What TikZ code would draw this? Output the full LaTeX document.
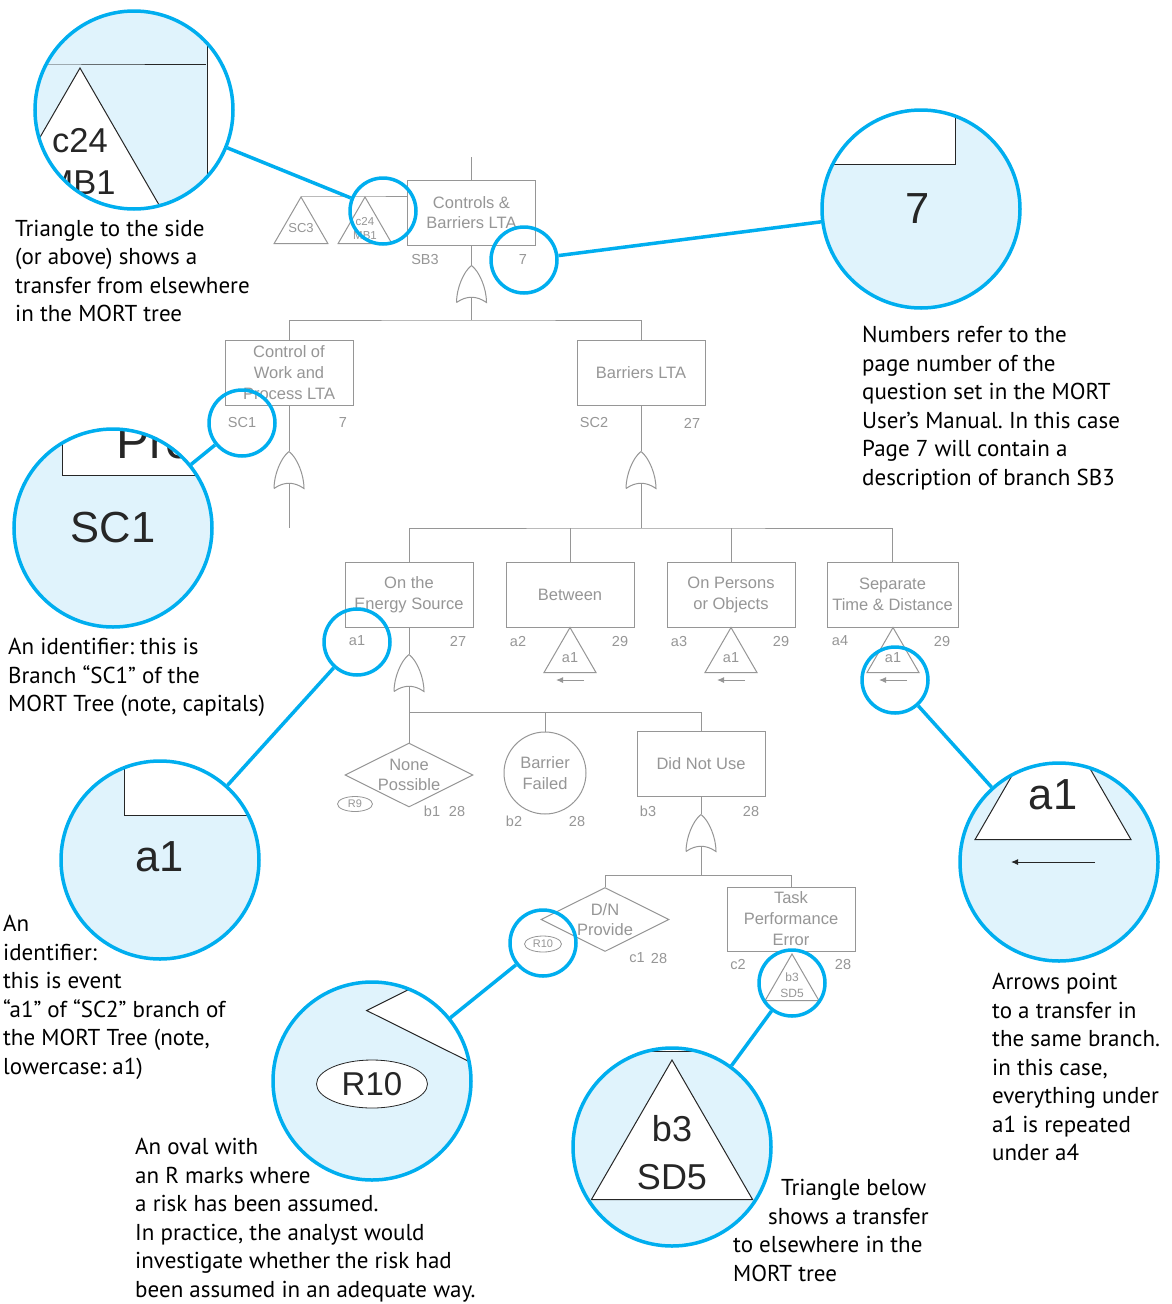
\documentclass[tikz,border=0pt]{standalone}
\usepackage{fontspec}
\setmainfont{Liberation Sans}
\newfontfamily\notefont{PT Sans}
\usetikzlibrary{shapes.geometric,arrows.meta}
\definecolor{treegray}{RGB}{150,150,150}
\definecolor{lenscyan}{RGB}{0,174,239}
\definecolor{lensfill}{RGB}{224,243,252}
\colorlet{treefg}{treegray}
\frenchspacing

\newcommand{\mortree}{%
  \coordinate (top) at (471.5,157);
  \node[evbox, font=\fontsize{16.5}{20}\selectfont] (sb3) at (471.5,212.5) {Controls \&\\Barriers LTA};
  \node[idlbl] (sb3id) at (425,260) {SB3};
  \node[idlbl] (sb3pg) at (523,260) {7};
  \node[xfer, minimum size=62, font=\fontsize{13}{14}\selectfont] (sc3) at (301,228) {\raisebox{-4pt}{SC3}};
  \node[xfer, minimum size=62, font=\fontsize{11.5}{14}\selectfont] (mb1) at (365,228) {c24\\MB1};
  \node[orgate] (g1) at (471.5,284) {};
  \draw[tline] (top) -- (sb3);
  \draw[tline] (sc3.corner 1) -- (mb1.corner 1) -- (mb1.corner 1 -| sb3.west);
  \draw[tline] (sb3) -- (g1);
  \coordinate (bar1) at (471.5,320);
  \draw[tline] ([yshift=5pt]g1.south) -- (bar1);
  \node[evbox] (sc1) at (289,373) {Control of\\Work and\\Process LTA};
  \node[idlbl] (sc1id) at (242,423) {SC1};
  \node[idlbl] (sc1pg) at (343,423) {7};
  \node[evbox] (sc2) at (641,373) {Barriers LTA};
  \node[idlbl] (sc2id) at (594,423) {SC2};
  \node[idlbl] (sc2pg) at (692,423) {27};
  \draw[tline] (sc1.north) |- (bar1) -| (sc2.north);
  \node[orgate] (g2) at (289,470) {};
  \node[orgate] (g3) at (641,470) {};
  \draw[tline] (sc1) -- (g2);
  \draw[tline] (sc2) -- (g3);
  \coordinate (sc1end) at (289,528);
  \draw[tline] ([yshift=5pt]g2.south) -- (sc1end);
  \coordinate (bar2) at (641,528);
  \draw[tline] ([yshift=5pt]g3.south) -- (bar2);
  \node[evbox] (a1box) at (409,594.5) {On the\\Energy Source};
  \node[evbox] (a2box) at (570,594.5) {Between};
  \node[evbox] (a3box) at (731,594.5) {On Persons\\or Objects};
  \node[evbox, minimum width=131] (a4box) at (892.5,594.5) {Separate\\Time \& Distance};
  \draw[tline] (a1box.north) |- (bar2) -| (a4box.north);
  \draw[tline] (a2box.north) -- (a2box.north |- bar2);
  \draw[tline] (a3box.north) -- (a3box.north |- bar2);
  \node[idlbl] (a1id) at (357,641) {a1};
  \node[idlbl] (a1pg) at (458,641) {27};
  \node[idlbl] (a2id) at (518,641) {a2};
  \node[idlbl] (a2pg) at (620,641) {29};
  \node[idlbl] (a3id) at (679,641) {a3};
  \node[idlbl] (a3pg) at (781,641) {29};
  \node[idlbl] (a4id) at (840,641) {a4};
  \node[idlbl] (a4pg) at (942,641) {29};
  \node[xfer] (t2) at (570,657.5) {a1};
  \node[xfer] (t3) at (731,657.5) {a1};
  \node[xfer] (t4) at (893,657.5) {a1};
  \draw[xarrow] (584,680) -- (556,680);
  \draw[xarrow] (745,680) -- (717,680);
  \draw[xarrow] (907,680) -- (879,680);
  \node[orgate] (g4) at (409,673) {};
  \draw[tline] (a1box) -- (g4);
  \coordinate (bar3) at (409,712);
  \draw[tline] ([yshift=5pt]g4.south) -- (bar3);
  \node[cond] (b1) at (409,775) {None\\Possible};
  \node[basic] (b2) at (545,773) {Barrier\\Failed};
  \node[evbox] (b3box) at (701,764) {Did Not Use};
  \draw[tline] (b1.north) |- (bar3) -| (b3box.north);
  \draw[tline] (b2.north) -- (b2.north |- bar3);
  \node[risk] (r9) at (355,804) {R9};
  \node[idlbl] (b1id) at (432,811) {b1};
  \node[idlbl] (b1pg) at (457,811) {28};
  \node[idlbl] (b2id) at (514,821) {b2};
  \node[idlbl] (b2pg) at (577,821) {28};
  \node[idlbl] (b3id) at (648,811) {b3};
  \node[idlbl] (b3pg) at (751,811) {28};
  \node[orgate] (g5) at (701,833) {};
  \draw[tline] (b3box) -- (g5);
  \coordinate (bar4) at (701,875);
  \draw[tline] ([yshift=5pt]g5.south) -- (bar4);
  \node[cond] (c1) at (605,919.5) {D/N\\Provide};
  \node[evbox, minimum height=64] (c2box) at (791,919) {Task\\Performance\\Error};
  \draw[tline] (c1.north) |- (bar4) -| (c2box.north);
  \node[risk, minimum width=37, minimum height=16] (r10) at (543,944) {R10};
  \node[idlbl] (c1id) at (637,958) {c1};
  \node[idlbl] (c1pg) at (659,958) {28};
  \node[idlbl] (c2id) at (738,964) {c2};
  \node[idlbl] (c2pg) at (843,964) {28};
  \node[xfer, minimum size=62, font=\fontsize{12}{16}\selectfont] (sd5) at (792,985) {b3\\SD5};
}

\newcommand{\magview}[5]{%
  \node[smalllens] (lens#1) at (#2,#3) {};
  \begin{scope}
    \clip (#4,#5) circle (99);
    \fill[lensfill] (#4,#5) circle (99);
    \begin{scope}[shift={(#4,#5)}, scale=3, shift={(-#2,-#3)}, transform shape, name prefix=#1-]
      \colorlet{treefg}{black!85}
      \mortree
    \end{scope}
  \end{scope}
  \node[biglens] (mag#1) at (#4,#5) {};
  \draw[lensline] (mag#1) -- (lens#1);
}

\begin{document}
\begin{tikzpicture}[x=1pt, y=-1pt,
  tline/.style={draw=treefg, line width=1pt},
  evbox/.style={rectangle, draw=treefg, fill=white, line width=1pt, text=treefg, minimum width=128, minimum height=65, inner sep=0pt, align=center, font=\fontsize{16.5}{21}\selectfont},
  cond/.style={diamond, aspect=2, draw=treefg, fill=white, line width=1pt, text=treefg, minimum width=128, minimum height=64, inner sep=-3pt, align=center, font=\fontsize{16.5}{20.5}\selectfont},
  basic/.style={circle, draw=treefg, fill=white, line width=1pt, text=treefg, minimum size=82, inner sep=0pt, align=center, font=\fontsize{16.5}{20.5}\selectfont},
  xfer/.style={regular polygon, regular polygon sides=3, draw=treefg, fill=white, line width=1pt, text=treefg, minimum size=60, inner sep=-2pt, align=center, font=\fontsize{14.5}{16}\selectfont},
  risk/.style={ellipse, draw=treefg, fill=white, line width=0.8pt, text=treefg, minimum width=35, minimum height=15, inner sep=0pt, font=\fontsize{11}{12}\selectfont},
  idlbl/.style={text=treefg, inner sep=0pt, font=\fontsize{14.5}{16}\selectfont},
  orgate/.style={rectangle, minimum width=32, minimum height=38, inner sep=0pt,
    path picture={\draw[tline]
      ([shift={(-15pt,-18.5pt)}]path picture bounding box.center)
      .. controls +(0pt,14pt) and +(-8pt,-6pt) .. ([shift={(0pt,18.5pt)}]path picture bounding box.center)
      .. controls +(8pt,-6pt) and +(0pt,14pt) .. ([shift={(15pt,-18.5pt)}]path picture bounding box.center)
      .. controls +(-10pt,7pt) and +(10pt,7pt) .. ([shift={(-15pt,-18.5pt)}]path picture bounding box.center);}},
  xarrow/.style={draw=treefg, line width=1pt, -{Latex[length=7pt,width=6pt]}},
  smalllens/.style={circle, draw=lenscyan, line width=3.5pt, minimum size=66, inner sep=0pt},
  biglens/.style={circle, draw=lenscyan, line width=3.5pt, minimum size=198, inner sep=0pt},
  lensline/.style={draw=lenscyan, line width=3.5pt},
  note/.style={anchor=north west, inner sep=0pt, align=left, text=black, font=\notefont\fontsize{23}{28.5}\selectfont}
]
\useasboundingbox (0,0) rectangle (1171,1304);
\fill[white] (0,0) rectangle (1171,1304);

\mortree

\magview{c24}{383}{211}{134}{110}
\magview{pg7}{524}{260}{921}{209}
\magview{sc1}{242}{423}{113}{528}
\magview{a1}{357}{642}{160}{860}
\magview{r10}{543}{943}{372}{1081}
\magview{sd5}{792}{983}{672}{1147}
\magview{a4}{895}{680}{1059}{862}

\node[note] (note1) at (15,220) {Triangle to the side\\(or above) shows a\\transfer from elsewhere\\in the MORT tree};
\node[note] (note2) at (862,326) {Numbers refer to the\\page number of the\\question set in the MORT\\User’s Manual. In this case\\Page 7 will contain a\\description of branch SB3};
\node[note] (note3) at (8,638) {An identifier: this is\\Branch “SC1” of the\\MORT Tree (note, capitals)};
\node[note] (note4) at (3,915) {An\\identifier:\\this is event\\“a1” of “SC2” branch of\\the MORT Tree (note,\\lowercase: a1)};
\node[note] (note5) at (135,1138) {An oval with\\an R marks where\\a risk has been assumed.\\In practice, the analyst would\\investigate whether the risk had\\been assumed in an adequate way.};
\node[note] (note6) at (733,1179) {\hspace*{48pt}Triangle below\\\hspace*{35pt}shows a transfer\\to elsewhere in the\\MORT tree};
\node[note] (note7) at (992,973) {Arrows point\\to a transfer in\\the same branch.\\in this case,\\everything under\\a1 is repeated\\under a4};
\end{tikzpicture}
\end{document}
